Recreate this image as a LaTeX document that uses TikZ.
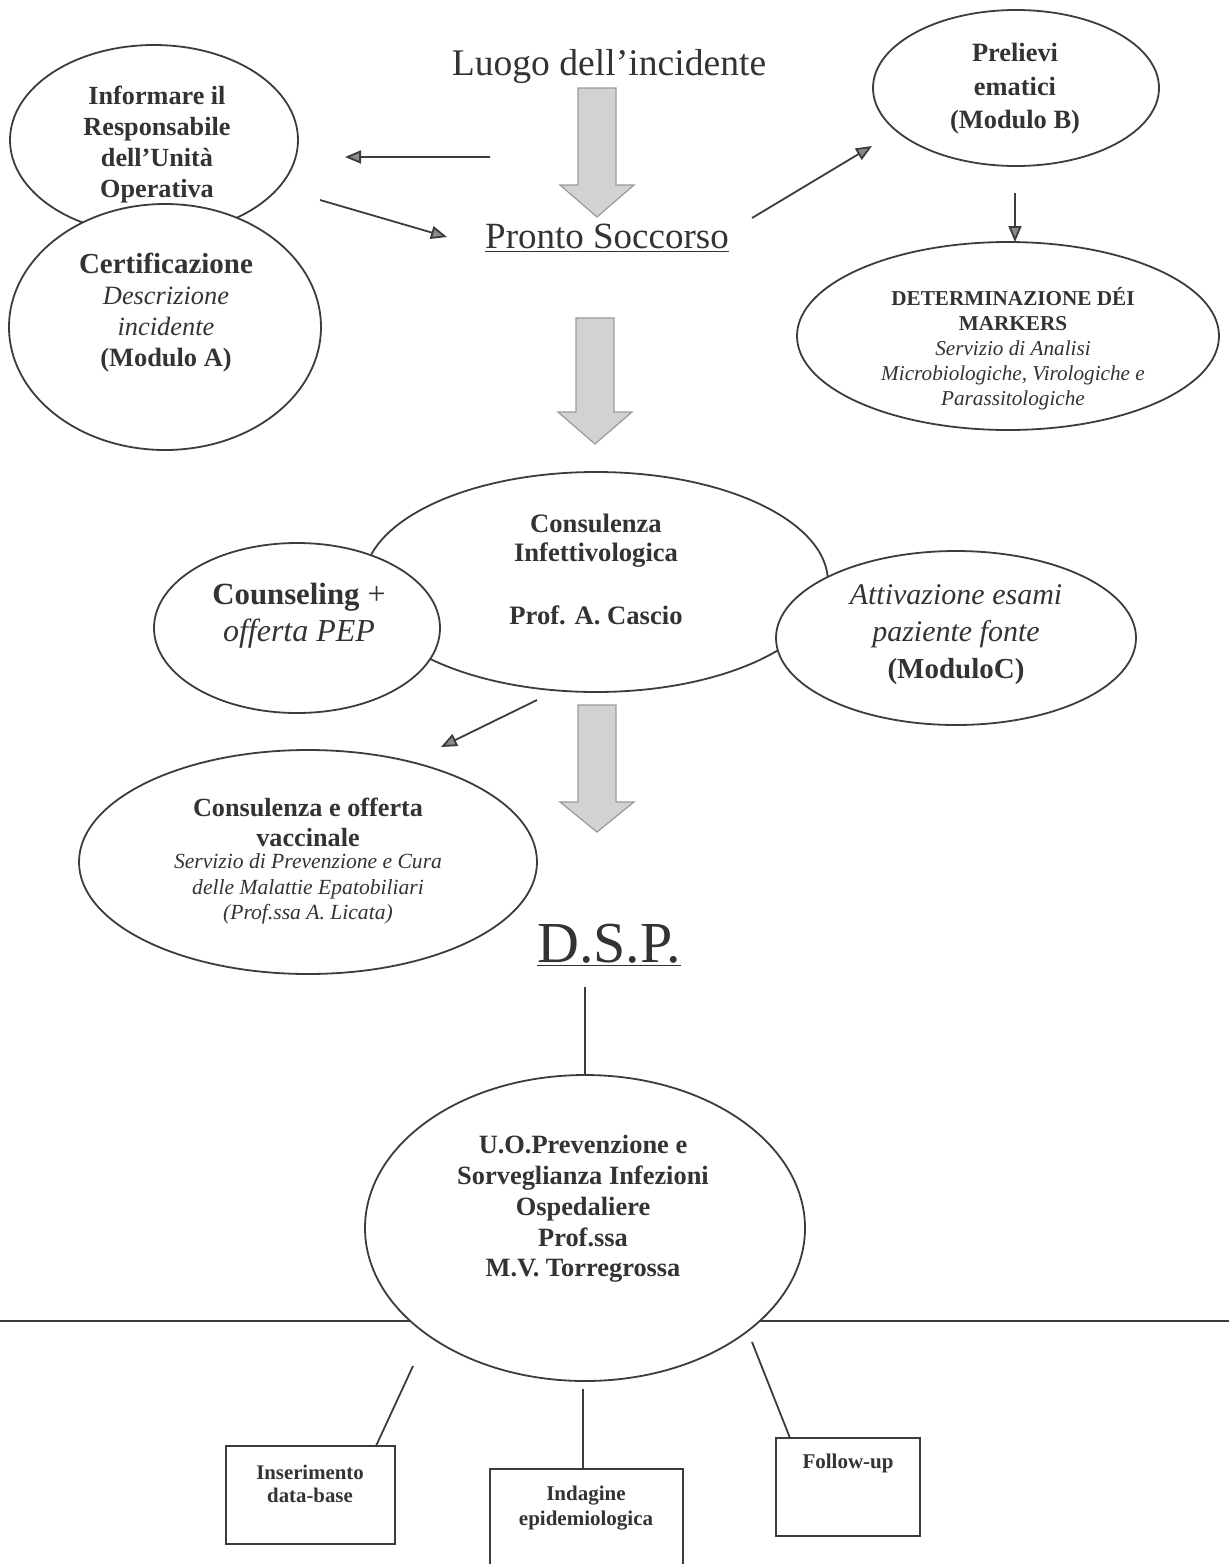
\documentclass[tikz,border=0pt]{standalone}
\usepackage{fontspec}
\setmainfont{Liberation Serif}
\usetikzlibrary{arrows.meta,shapes.geometric}
\definecolor{ink}{HTML}{333333}
\definecolor{linec}{HTML}{3C3C3C}
\definecolor{arrfill}{HTML}{D2D2D2}
\definecolor{arredge}{HTML}{9A9A9A}
\definecolor{tipfill}{HTML}{8A8A8A}
\newcommand{\fsz}[2]{\fontsize{#1}{#2}\selectfont}
\newcommand{\bigarr}[4]{%
  \path[bigarrst] (#1-19,#2) -- (#1+19,#2) -- (#1+19,#3) -- (#1+37,#3) -- (#1,#4) -- (#1-37,#3) -- (#1-19,#3) -- cycle;}
\begin{document}
\begin{tikzpicture}[x=0.5pt,y=-0.5pt,
  ell/.style={draw=linec, line width=0.9pt, ellipse, fill=white, inner sep=0pt, outer sep=0pt},
  txt/.style={text=ink, align=center, inner sep=0pt},
  boxst/.style={draw=linec, line width=0.9pt, rectangle, fill=white, inner sep=0pt, outer sep=0pt},
  conn/.style={draw=linec, line width=0.9pt},
  arr/.style={conn, -{Triangle[length=8pt,width=6.5pt,fill=tipfill]}},
  bigarrst/.style={fill=arrfill, draw=arredge, line width=0.6pt},
]
\path[use as bounding box] (0,0) rectangle (1229,1564);

% ---- titles
\node[txt, anchor=base, font=\fsz{18.8}{22}] (luogo) at (609,75) {Luogo dell’incidente};
\node[txt, anchor=base, font=\fsz{18.5}{22}] (pronto) at (607,248) {\underline{Pronto Soccorso}};
\node[txt, anchor=base, font=\fsz{29}{34}] (dsp) at (609,962) {\underline{D.S.P.}};

% ---- big grey arrows
\bigarr{597}{88}{185}{217}
\bigarr{595}{318}{412}{444}
\bigarr{597}{705}{802}{832}

% ---- ellipses
\node[ell, minimum width=144pt, minimum height=95pt] (e1) at (154,140) {};
\node[ell, minimum width=156pt, minimum height=123pt] (e2) at (165,327) {};
\node[ell, minimum width=143pt, minimum height=78pt] (e3) at (1016,88) {};
\node[ell, minimum width=211pt, minimum height=94pt] (e4) at (1008,336) {};
\node[ell, minimum width=232pt, minimum height=110pt] (e5) at (596,582) {};
\node[ell, minimum width=143pt, minimum height=85pt] (e6) at (297,628) {};
\node[ell, minimum width=180pt, minimum height=87pt] (e7) at (956,638) {};
\node[ell, minimum width=229pt, minimum height=112pt] (e8) at (308,862) {};

% horizontal rule behind the last ellipse
\coordinate (hl1) at (0,1321);
\coordinate (hl2) at (1229,1321);
\draw[conn] (hl1) -- (hl2);
\node[ell, minimum width=220pt, minimum height=153pt] (e9) at (585,1228) {};

% ---- boxes
\node[boxst, minimum width=84.5pt, minimum height=49pt] (b1) at (310.5,1495) {};
\node[boxst, minimum width=96.5pt, minimum height=49pt] (b2) at (586.5,1518) {};
\node[boxst, minimum width=72pt, minimum height=49pt] (b3) at (848,1487) {};

% ---- texts
\node[txt, font=\bfseries\fsz{13.1}{15.5}] (t1) at (157,145) {Informare il\\Responsabile\\dell’Unità\\Operativa};
\node[txt, font=\fsz{13.2}{15.5}] (t2) at (166,313) {{\bfseries\fsz{14.5}{15.5}Certificazione}\\\itshape Descrizione\\\itshape incidente\\\bfseries (Modulo A)};
\node[txt, font=\bfseries\fsz{13.2}{16.75}] (t3) at (1015,89) {Prelievi\\ematici\\(Modulo B)};
\node[txt, font=\fsz{10.6}{12.5}] (t4) at (1013,349) {{\bfseries DETERMINAZIONE DÉI}\\{\bfseries MARKERS}\\\itshape Servizio di Analisi\\\itshape Microbiologiche, Virologiche e\\\itshape Parassitologiche};
\node[txt, font=\bfseries\fsz{13.3}{14.5}] (t5) at (596,569) {Consulenza\\Infettivologica\\[17pt]Prof. A. Cascio};
\node[txt, font=\fsz{16}{18.5}] (t6) at (299,616) {{\bfseries\fsz{15.4}{18.5}Counseling} +\\\itshape offerta PEP};
\node[txt, font=\fsz{15}{18.5}] (t7) at (956,635) {\itshape Attivazione esami\\\itshape paziente fonte\\{\bfseries\fsz{14.5}{18.5}(ModuloC)}};
\node[txt, font=\bfseries\fsz{13.1}{15}] (t8a) at (308,822) {Consulenza e offerta\\vaccinale};
\node[txt, font=\itshape\fsz{10.8}{12.75}] (t8b) at (308,889) {Servizio di Prevenzione e Cura\\delle Malattie Epatobiliari\\(Prof.ssa A. Licata)};
\node[txt, font=\bfseries\fsz{13.2}{15.4}] (t9) at (583,1209) {U.O.Prevenzione e\\Sorveglianza Infezioni\\Ospedaliere\\Prof.ssa\\M.V. Torregrossa};
\node[txt, font=\bfseries\fsz{10.4}{11.5}] (tb1) at (310,1484) {Inserimento\\data-base};
\node[txt, font=\bfseries\fsz{10.5}{12.5}] (tb2) at (586,1508) {Indagine\\epidemiologica};
\node[txt, font=\bfseries\fsz{10.5}{12.5}] (tb3) at (848,1463) {Follow-up};

% ---- small arrows
\coordinate (a1s) at (490,157);  \coordinate (a1e) at (345,157);
\coordinate (a2s) at (320,200);  \coordinate (a2e) at (447,237);
\coordinate (a3s) at (752,218);  \coordinate (a3e) at (872,146);
\coordinate (a4s) at (1015,193); \coordinate (a4e) at (1015,242);
\coordinate (a5s) at (537,700);  \coordinate (a5e) at (441,747);
\draw[arr] (a1s) -- (a1e);
\draw[arr] (a2s) -- (a2e);
\draw[arr] (a3s) -- (a3e);
\draw[arr] (a4s) -- (a4e);
\draw[arr] (a5s) -- (a5e);

% ---- plain connectors
\coordinate (d1) at (585,987);
\draw[conn] (d1) -- (e9.north);
\coordinate (l1) at (413,1366);
\coordinate (l2) at (583,1389);
\coordinate (l3) at (752,1342);
\draw[conn] (l1) -- ([xshift=32.75pt]b1.north);
\draw[conn] (l2) -- ([xshift=-1.75pt]b2.north);
\draw[conn] (l3) -- ([xshift=-29pt]b3.north);
\end{tikzpicture}
\end{document}
